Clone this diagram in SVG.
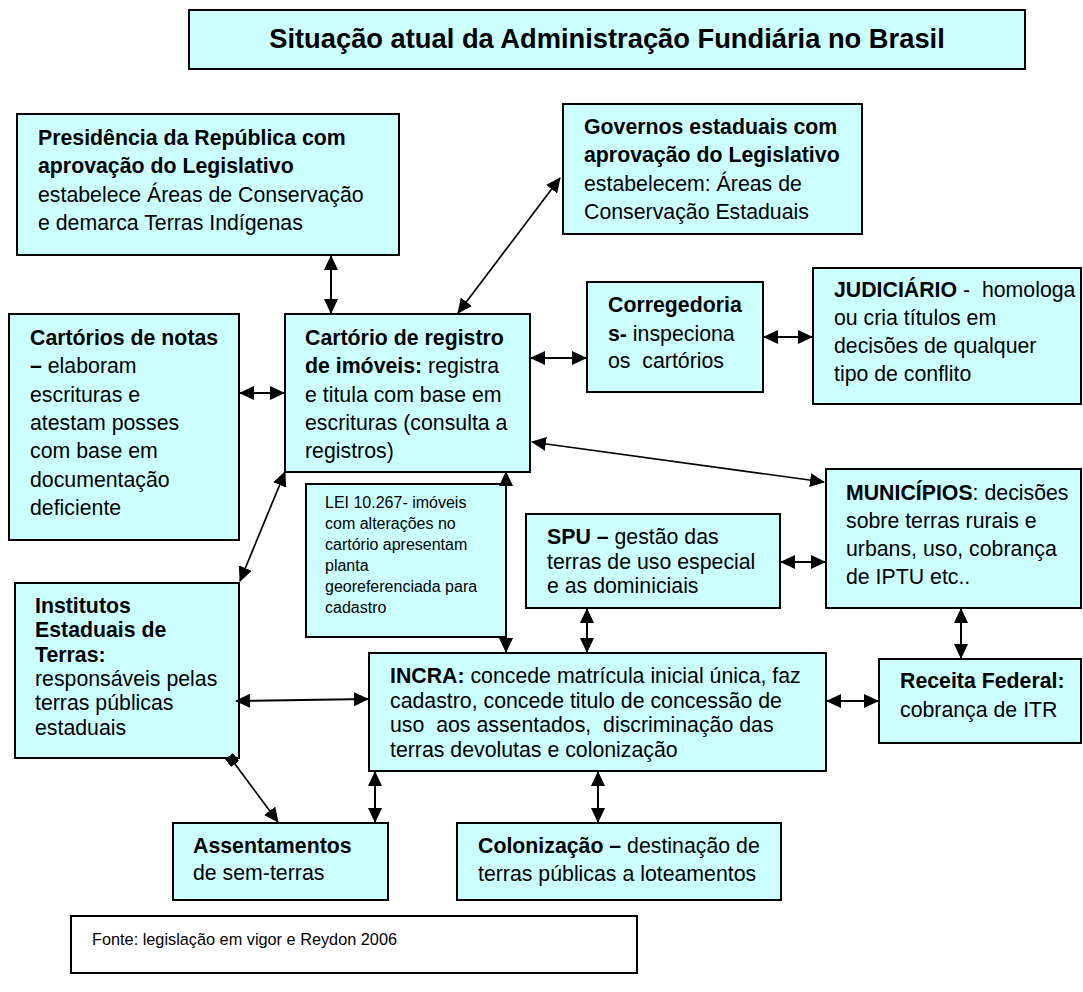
<svg xmlns="http://www.w3.org/2000/svg" width="1083" height="992" viewBox="0 0 1083 992">
<defs>
<style>
.box{fill:#ccffff;stroke:#000;stroke-width:2}
.plain{fill:#fff;stroke:#000;stroke-width:2}
text{font-family:"Liberation Sans",Arial,sans-serif;font-size:21.3px;fill:#000;white-space:pre}
.b{font-weight:bold}
.small{font-size:16px}
.title{font-size:27.3px;font-weight:bold}
.src{font-size:16.3px}
.c line{stroke:#000;stroke-width:2;fill:none;marker-start:url(#ah);marker-end:url(#ah)}
.c line.d{stroke-width:1.7}
</style>
<marker id="ah" viewBox="0 0 15 14" refX="14" refY="7" markerWidth="15" markerHeight="14" markerUnits="userSpaceOnUse" orient="auto-start-reverse">
<path d="M0,0 L15,7 L0,14 z" fill="#000"/>
</marker>
<marker id="sq" viewBox="0 0 10 10" refX="5" refY="5" markerWidth="10" markerHeight="10" markerUnits="userSpaceOnUse" orient="auto">
<rect x="0" y="0" width="10" height="10" fill="#000"/>
</marker>
</defs>
<rect width="1083" height="992" fill="#fff"/>

<g id="title">
<rect class="box" x="189" y="10" width="836" height="59"/>
<text class="title" x="607" y="48" text-anchor="middle">Situação atual da Administração Fundiária no Brasil</text>
</g>

<g id="presidencia">
<rect class="box" x="17" y="114" width="382" height="141"/>
<text x="38" y="145" class="b">Presidência da República com</text>
<text x="38" y="173" class="b">aprovação do Legislativo</text>
<text x="38" y="202">estabelece Áreas de Conservação</text>
<text x="38" y="230">e demarca Terras Indígenas</text>
</g>

<g id="governos">
<rect class="box" x="563" y="104" width="299" height="130"/>
<text x="584" y="134" class="b">Governos estaduais com</text>
<text x="584" y="162" class="b">aprovação do Legislativo</text>
<text x="584" y="191">estabelecem: Áreas de</text>
<text x="584" y="219">Conservação Estaduais</text>
</g>

<g id="cartorios-notas">
<rect class="box" x="9" y="314" width="230" height="226"/>
<text x="30" y="345" class="b">Cartórios de notas</text>
<text x="30" y="373"><tspan class="b">–</tspan> elaboram</text>
<text x="30" y="402">escrituras e</text>
<text x="30" y="430">atestam posses</text>
<text x="30" y="458">com base em</text>
<text x="30" y="487">documentação</text>
<text x="30" y="515">deficiente</text>
</g>

<g id="cartorio-registro">
<rect class="box" x="285" y="314" width="245" height="158"/>
<text x="305" y="345" class="b">Cartório de registro</text>
<text x="305" y="373"><tspan class="b">de imóveis:</tspan> registra</text>
<text x="305" y="402">e titula com base em</text>
<text x="305" y="430">escrituras (consulta a</text>
<text x="305" y="458">registros)</text>
</g>

<g id="corregedoria">
<rect class="box" x="587" y="282" width="176" height="110"/>
<text x="608" y="312" class="b">Corregedoria</text>
<text x="608" y="341"><tspan class="b">s-</tspan> inspeciona</text>
<text x="608" y="368">os  cartórios</text>
</g>

<g id="judiciario">
<rect class="box" x="813" y="268" width="268" height="136"/>
<text x="834" y="297"><tspan class="b">JUDICIÁRIO</tspan> -  homologa</text>
<text x="834" y="325">ou cria títulos em</text>
<text x="834" y="353">decisões de qualquer</text>
<text x="834" y="381">tipo de conflito</text>
</g>

<g id="lei">
<rect class="box" x="306" y="484" width="200" height="153"/>
<text class="small" x="325" y="508">LEI 10.267- imóveis</text>
<text class="small" x="325" y="529">com alterações no</text>
<text class="small" x="325" y="550">cartório apresentam</text>
<text class="small" x="325" y="571">planta</text>
<text class="small" x="325" y="592">georeferenciada para</text>
<text class="small" x="325" y="613">cadastro</text>
</g>

<g id="municipios">
<rect class="box" x="826" y="469" width="255" height="139"/>
<text x="846" y="500"><tspan class="b">MUNICÍPIOS</tspan>: decisões</text>
<text x="846" y="528">sobre terras rurais e</text>
<text x="846" y="556">urbans, uso, cobrança</text>
<text x="846" y="584">de IPTU etc..</text>
</g>

<g id="spu">
<rect class="box" x="526" y="514" width="254" height="94"/>
<text x="547" y="544"><tspan class="b">SPU –</tspan> gestão das</text>
<text x="547" y="569">terras de uso especial</text>
<text x="547" y="593">e as dominiciais</text>
</g>

<g id="institutos">
<rect class="box" x="15" y="583" width="224" height="175"/>
<text x="35" y="613" class="b">Institutos</text>
<text x="35" y="637" class="b">Estaduais de</text>
<text x="35" y="662" class="b">Terras:</text>
<text x="35" y="686">responsáveis pelas</text>
<text x="35" y="710">terras públicas</text>
<text x="35" y="735">estaduais</text>
</g>

<g id="incra">
<rect class="box" x="369" y="653" width="457" height="118"/>
<text x="390" y="683"><tspan class="b">INCRA:</tspan> concede matrícula inicial única, faz</text>
<text x="390" y="708">cadastro, concede titulo de concessão de</text>
<text x="390" y="732">uso  aos assentados,  discriminação das</text>
<text x="390" y="757">terras devolutas e colonização</text>
</g>

<g id="receita">
<rect class="box" x="879" y="659" width="202" height="84"/>
<text x="900" y="688" class="b">Receita Federal:</text>
<text x="900" y="717">cobrança de ITR</text>
</g>

<g id="assentamentos">
<rect class="box" x="173" y="823" width="215" height="77"/>
<text x="193" y="853" class="b">Assentamentos</text>
<text x="193" y="880">de sem-terras</text>
</g>

<g id="colonizacao">
<rect class="box" x="457" y="823" width="324" height="77"/>
<text x="478" y="853"><tspan class="b">Colonização –</tspan> destinação de</text>
<text x="478" y="881">terras públicas a loteamentos</text>
</g>

<g id="fonte">
<rect class="plain" x="71" y="916" width="566" height="57"/>
<text class="src" x="92" y="945">Fonte: legislação em vigor e Reydon 2006</text>
</g>

<g id="connectors" class="c">
<line x1="331" y1="256" x2="331" y2="313"/>
<line class="d" x1="458" y1="313" x2="560" y2="178"/>
<line x1="240" y1="393" x2="284" y2="393"/>
<line x1="531" y1="358" x2="586" y2="358"/>
<line x1="764" y1="337" x2="812" y2="337"/>
<line class="d" x1="532" y1="442" x2="824" y2="482"/>
<line class="d" x1="285" y1="472" x2="240" y2="581"/>
<line x1="506" y1="472" x2="506" y2="652"/>
<line x1="781" y1="562" x2="825" y2="562"/>
<line x1="587" y1="609" x2="587" y2="652"/>
<line x1="961" y1="609" x2="961" y2="658"/>
<line x1="236" y1="701" x2="368" y2="699"/>
<line x1="827" y1="701" x2="878" y2="701"/>
<line x1="375" y1="772" x2="375" y2="822"/>
<line x1="598" y1="772" x2="598" y2="822"/>
<line class="d" x1="232" y1="760" x2="278" y2="822" style="marker-start:url(#sq)"/>
</g>
</svg>
